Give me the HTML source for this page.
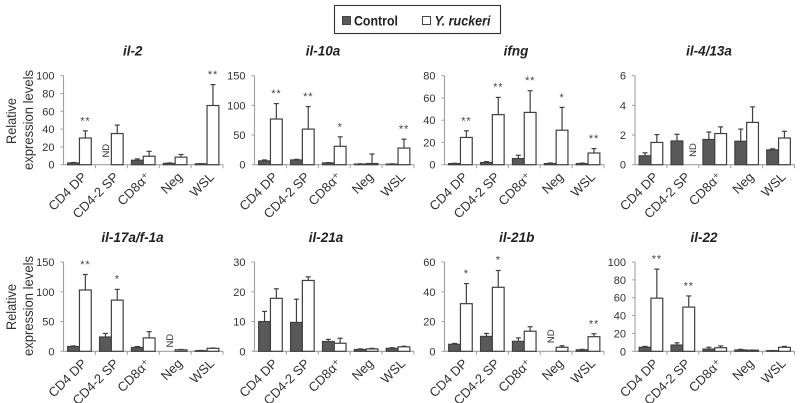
<!DOCTYPE html>
<html>
<head>
<meta charset="utf-8">
<title>Relative expression levels</title>
<style>
html,body{margin:0;padding:0;background:#fff;width:800px;height:403px;overflow:hidden}
svg{display:block;font-family:"Liberation Sans",sans-serif}
</style>
</head>
<body>
<svg id="chart" width="800" height="403" viewBox="0 0 800 403" xmlns="http://www.w3.org/2000/svg">
  <g>
    <rect x="334.5" y="5.5" width="166" height="28" fill="#fff" stroke="#333" stroke-width="1.1"/>
    <rect x="342.5" y="16.5" width="8" height="8" fill="#595959" stroke="#444"/>
    <text x="354" y="25.5" font-size="13.5" font-weight="bold" fill="#222" textLength="44" lengthAdjust="spacingAndGlyphs">Control</text>
    <rect x="422.5" y="16.5" width="8" height="8" fill="#fff" stroke="#444"/>
    <text x="434.5" y="25.5" font-size="13.5" font-weight="bold" font-style="italic" fill="#222" textLength="56" lengthAdjust="spacingAndGlyphs">Y. ruckeri</text>
  </g>
  <g font-size="14" fill="#333" text-anchor="middle">
    <text transform="translate(16,121) rotate(-90)" textLength="46" lengthAdjust="spacingAndGlyphs">Relative</text>
    <text transform="translate(33,120) rotate(-90)" textLength="100" lengthAdjust="spacingAndGlyphs">expression levels</text>
  </g>
  <g font-size="14" fill="#333" text-anchor="middle">
    <text transform="translate(16,307) rotate(-90)" textLength="46" lengthAdjust="spacingAndGlyphs">Relative</text>
    <text transform="translate(33,306) rotate(-90)" textLength="100" lengthAdjust="spacingAndGlyphs">expression levels</text>
  </g>
</svg>
<script>
const categories = ['CD4 DP', 'CD4-2 SP', 'CD8α⁺', 'Neg', 'WSL'];

const il2Control = [2, null, 5, 1.5, 1];
const il2Ruckeri = [30, 35, 9.5, 8.5, 66.5];
const il2ControlTop = [2.5, null, 6.5, 2, 1.2];
const il2RuckeriTop = [38, 44.5, 15, 11.5, 90];
const il2Stars = ['**', '', '', '', '**'];
const il2StarLevels = [52, null, null, null, 104];
const il2Ticks = [0, 20, 40, 60, 80, 100];

const il10aControl = [6.5, 8, 3, 1, 1];
const il10aRuckeri = [77, 60, 31, 2, 28];
const il10aControlTop = [8, 9, 3.5, 1.5, 1.5];
const il10aRuckeriTop = [103, 98, 47, 18, 43];
const il10aStars = ['**', '**', '*', '', '**'];
const il10aStarLevels = [124, 119, 68, null, 64];
const il10aTicks = [0, 50, 100, 150];

const ifngControl = [1, 2, 5.5, 1, 1];
const ifngRuckeri = [24.5, 45, 47, 31, 10.5];
const ifngControlTop = [1.3, 2.8, 8.5, 1.5, 1.4];
const ifngRuckeriTop = [30.5, 60.5, 66.5, 51.5, 14.5];
const ifngStars = ['**', '**', '**', '*', '**'];
const ifngStarLevels = [41.6, 72, 78, 62.6, 25.8];
const ifngTicks = [0, 20, 40, 60, 80];

const il413aControl = [0.6, 1.6, 1.7, 1.58, 1];
const il413aRuckeri = [1.5, null, 2.1, 2.85, 1.8];
const il413aControlTop = [0.8, 2.05, 2.2, 2.4, 1.07];
const il413aRuckeriTop = [2.03, null, 2.55, 3.9, 2.25];
const il413aStars = ['', '', '', '', ''];
const il413aStarLevels = [null, null, null, null, null];
const il413aTicks = [0, 2, 4, 6];

const il17aControl = [8, 24, 6.5, null, 1];
const il17aRuckeri = [103, 86, 22.5, 2.5, 5];
const il17aControlTop = [9, 30, 8, null, 1.5];
const il17aRuckeriTop = [129, 104, 33, 3, 5.5];
const il17aStars = ['**', '*', '', '', ''];
const il17aStarLevels = [150, 126, null, null, null];
const il17aTicks = [0, 50, 100, 150];

const il21aControl = [10, 9.7, 3.3, 0.6, 1];
const il21aRuckeri = [17.8, 23.8, 2.7, 0.8, 1.5];
const il21aControlTop = [13.4, 17.5, 4, 0.8, 1.2];
const il21aRuckeriTop = [21, 25, 4.4, 1, 1.7];
const il21aStars = ['', '', '', '', ''];
const il21aStarLevels = [null, null, null, null, null];
const il21aTicks = [0, 10, 20, 30];

const il21bControl = [4.7, 10, 6.7, null, 1];
const il21bRuckeri = [32, 43, 13.5, 2.7, 9.8];
const il21bControlTop = [5.3, 12, 9, null, 1.3];
const il21bRuckeriTop = [45.5, 54.3, 16.5, 3.7, 11.8];
const il21bStars = ['*', '*', '', '', '**'];
const il21bStarLevels = [54, 63, null, null, 20];
const il21bTicks = [0, 20, 40, 60];

const il22Control = [4.5, 7, 2.5, 1.5, 0.7];
const il22Ruckeri = [59.5, 49.5, 4, 1.2, 4.5];
const il22ControlTop = [5.5, 9.5, 4.5, 2.2, 0.9];
const il22RuckeriTop = [92, 62, 6, 1.4, 5.5];
const il22Stars = ['**', '**', '', '', ''];
const il22StarLevels = [106, 76, null, null, null];
const il22Ticks = [0, 20, 40, 60, 80, 100];

const panelTitles = ['il-2', 'il-10a', 'ifng', 'il-4/13a', 'il-17a/f-1a', 'il-21a', 'il-21b', 'il-22'];
const controlSeries = [il2Control, il10aControl, ifngControl, il413aControl, il17aControl, il21aControl, il21bControl, il22Control];
const ruckeriSeries = [il2Ruckeri, il10aRuckeri, ifngRuckeri, il413aRuckeri, il17aRuckeri, il21aRuckeri, il21bRuckeri, il22Ruckeri];
const controlTops = [il2ControlTop, il10aControlTop, ifngControlTop, il413aControlTop, il17aControlTop, il21aControlTop, il21bControlTop, il22ControlTop];
const ruckeriTops = [il2RuckeriTop, il10aRuckeriTop, ifngRuckeriTop, il413aRuckeriTop, il17aRuckeriTop, il21aRuckeriTop, il21bRuckeriTop, il22RuckeriTop];
const starSeries = [il2Stars, il10aStars, ifngStars, il413aStars, il17aStars, il21aStars, il21bStars, il22Stars];
const starLevelSeries = [il2StarLevels, il10aStarLevels, ifngStarLevels, il413aStarLevels, il17aStarLevels, il21aStarLevels, il21bStarLevels, il22StarLevels];
const tickSeries = [il2Ticks, il10aTicks, ifngTicks, il413aTicks, il17aTicks, il21aTicks, il21bTicks, il22Ticks];

const NS = 'http://www.w3.org/2000/svg';
const svg = document.getElementById('chart');
const columnLefts = [63.5, 254.5, 444.5, 635];
const rowGeometry = [{ top: 75.7, bottom: 164.7 }, { top: 262, bottom: 351.3 }];
const titleCenters = [132.7, 323, 516, 709, 132.5, 326, 516.7, 704];
const ndRaise = [14, 14, 14, 14.7, 10.6, 14, 15, 14];
const plotWidth = 159.5;
const barWidth = 11.8;

function mk(parent, tag, attrs, text) {
  const el = document.createElementNS(NS, tag);
  for (const k in attrs) el.setAttribute(k, attrs[k]);
  if (text !== undefined) el.textContent = text;
  parent.appendChild(el);
  return el;
}

panelTitles.forEach(function (title, p) {
  const left = columnLefts[p % 4];
  const row = rowGeometry[Math.floor(p / 4)];
  const ticks = tickSeries[p];
  const maxVal = ticks[ticks.length - 1];
  const xScale = function (i) { return left + (i + 0.5) * plotWidth / categories.length; };
  const yScale = function (v) { return row.bottom - (v / maxVal) * (row.bottom - row.top); };

  const g = mk(svg, 'g', {});
  
  

  const t = mk(g, 'text', { x: titleCenters[p], y: row.top - 20, 'text-anchor': 'middle', 'font-size': 13.5, 'font-weight': 'bold', 'font-style': 'italic', fill: '#222' }, title);
  
  

  const yAxis = mk(g, 'line', { x1: left, x2: left, y1: row.top, y2: row.bottom, stroke: '#a0a0a0', 'stroke-width': 1.1 });
  
  
  const xAxis = mk(g, 'line', { x1: left, x2: left + plotWidth, y1: row.bottom, y2: row.bottom, stroke: '#a0a0a0', 'stroke-width': 1.1 });
  
  

  ticks.forEach(function (v) {
    const y = yScale(v);
    const tick = mk(g, 'line', { x1: left - 3, x2: left, y1: y, y2: y, stroke: '#a0a0a0', 'stroke-width': 1 });
    
    
    const lab = mk(g, 'text', { x: left - 9, y: y + 4, 'text-anchor': 'end', 'font-size': 11, fill: '#333' }, String(v));
    
    
  });

  categories.forEach(function (c, i) {
    const edge = left + (i + 1) * plotWidth / categories.length;
    const tick = mk(g, 'line', { x1: edge, x2: edge, y1: row.bottom, y2: row.bottom + 3.5, stroke: '#a0a0a0', 'stroke-width': 1 });
    
    
    const cx = xScale(i);
    const lab = mk(g, 'text', { 'text-anchor': 'end', 'font-size': 13, fill: '#333', transform: 'translate(' + (cx + 8) + ',' + (row.bottom + 13) + ') rotate(-45)' }, c);
    
    

    const series = [[controlSeries[p], controlTops[p], '#595959', -barWidth], [ruckeriSeries[p], ruckeriTops[p], '#ffffff', 0]];
    series.forEach(function (s, sIdx) {
      const val = s[0][i];
      const bx = cx + s[3];
      if (val === null) {
        const nd = mk(g, 'text', { 'text-anchor': 'middle', 'font-size': 9.5, fill: '#333', transform: 'translate(' + (bx + barWidth / 2 + (sIdx === 0 ? 3.5 : 7)) + ',' + (row.bottom - ndRaise[p]) + ') rotate(-90)' }, 'ND');
        
        
        return;
      }
      const topVal = s[1][i];
      const yTop = yScale(topVal);
      const midX = bx + barWidth / 2;
      const err = mk(g, 'line', { x1: midX, x2: midX, y1: yScale(val), y2: yTop, stroke: '#404040', 'stroke-width': 1.2 });
      
      
      const cap = mk(g, 'line', { x1: midX - 2.5, x2: midX + 2.5, y1: yTop, y2: yTop, stroke: '#404040', 'stroke-width': 1.2 });
      
      
      const by = yScale(val);
      const bar = mk(g, 'rect', { x: bx, y: by, width: barWidth, height: row.bottom - by, fill: s[2], stroke: '#404040', 'stroke-width': 1.2 });
      
      
    });

    const star = starSeries[p][i];
    if (star) {
      const st = mk(g, 'text', { x: cx + barWidth / 2, y: yScale(starLevelSeries[p][i]) + 6, 'text-anchor': 'middle', 'font-size': 11, 'letter-spacing': 0.8, fill: '#444' }, star);
      
      
    }
  });
});
</script>
</body>
</html>
